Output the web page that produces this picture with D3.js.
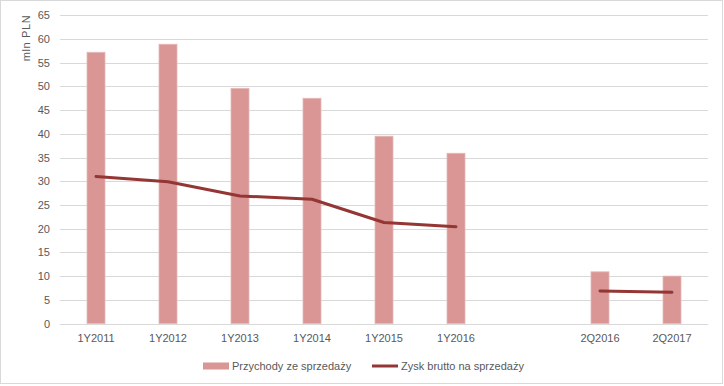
<!DOCTYPE html>
<html><head><meta charset="utf-8">
<script src="https://cdnjs.cloudflare.com/ajax/libs/d3/7.8.5/d3.min.js"></script>
<style>
html,body{margin:0;padding:0;background:#fff;}
svg{display:block;}
text{font-family:"Liberation Sans Narrow","Liberation Sans",Arial,sans-serif;fill:#595959;}
</style></head>
<body><svg id="c" width="724" height="386"></svg>
<script>
const categories = ["1Y2011","1Y2012","1Y2013","1Y2014","1Y2015","1Y2016","","2Q2016","2Q2017"];
const revenue = [57.2, 58.9, 49.6, 47.5, 39.5, 35.9, null, 10.9, 10.0];
const grossProfit = [31.0, 29.9, 26.9, 26.2, 21.3, 20.4, null, 6.85, 6.6];
const yTicks = [0,5,10,15,20,25,30,35,40,45,50,55,60,65];
const seriesNames = ["Przychody ze sprzedaży","Zysk brutto na sprzedaży"];
const yLabel = "mln PLN";

const svg = d3.select("#c");
svg.append("rect").attr("x",0.5).attr("y",0.5).attr("width",722).attr("height",383)
  .attr("fill","#fff").attr("stroke","#d9d9d9");

const pL=60, pR=708, pT=15.3, pB=323.5;
const x = d3.scaleBand().domain(d3.range(categories.length)).range([pL,pR]).paddingInner(0).paddingOuter(0);
const y = d3.scaleLinear().domain([0,65]).range([pB,pT]);

// grid
svg.append("g").selectAll("line").data(yTicks).join("line")
  .attr("x1",pL).attr("x2",pR)
  .attr("y1",d=>Math.round(y(d))+0.5).attr("y2",d=>Math.round(y(d))+0.5)
  .attr("stroke","#d9d9d9").attr("stroke-width",1);

// y axis labels
const yAxis = d3.axisLeft(y).tickValues(yTicks).tickSize(0).tickPadding(0);
const gy = svg.append("g").attr("transform",`translate(${50},0)`).call(yAxis);
gy.select(".domain").remove();
gy.selectAll("text").attr("font-size",11).attr("fill","#595959")
  .style("font-family",'"Liberation Sans Narrow","Liberation Sans",Arial,sans-serif');

// x axis labels
const xAxis = d3.axisBottom(x).tickFormat(i=>categories[i]).tickSize(0).tickPadding(0);
const gx = svg.append("g").attr("transform",`translate(0,${334})`).call(xAxis);
gx.select(".domain").remove();
gx.selectAll("text").attr("font-size",11).attr("fill","#595959")
  .style("font-family",'"Liberation Sans Narrow","Liberation Sans",Arial,sans-serif');

// y label
svg.append("text").attr("transform","translate(30,38) rotate(-90)")
  .attr("text-anchor","middle").attr("font-size",11).attr("letter-spacing",0.6).text(yLabel);

// bars
const bw = x.bandwidth()*0.25;
svg.append("g").selectAll("rect").data(revenue.map((v,i)=>({v,i})).filter(d=>d.v!=null)).join("rect")
  .attr("x",d=>x(d.i)+x.bandwidth()/2-bw/2)
  .attr("width",bw)
  .attr("y",d=>y(d.v))
  .attr("height",d=>y(0)-y(d.v))
  .attr("fill","#d99694").attr("stroke","#e6b9b8").attr("stroke-width",0.8);

// line
const line = d3.line().defined(d=>d.v!=null)
  .x(d=>x(d.i)+x.bandwidth()/2).y(d=>y(d.v));
svg.append("path").datum(grossProfit.map((v,i)=>({v,i})))
  .attr("d",line).attr("fill","none").attr("stroke","#943634").attr("stroke-width",3)
  .attr("stroke-linejoin","round").attr("stroke-linecap","round");

// legend
const lg = svg.append("g");
lg.append("rect").attr("x",203).attr("y",362.5).attr("width",26).attr("height",7).attr("fill","#d99694");
lg.append("text").attr("x",232).attr("y",370).attr("font-size",11).text(seriesNames[0]);
lg.append("line").attr("x1",372).attr("x2",398).attr("y1",366).attr("y2",366)
  .attr("stroke","#943634").attr("stroke-width",3);
lg.append("text").attr("x",401).attr("y",370).attr("font-size",11).text(seriesNames[1]);
</script></body></html>
